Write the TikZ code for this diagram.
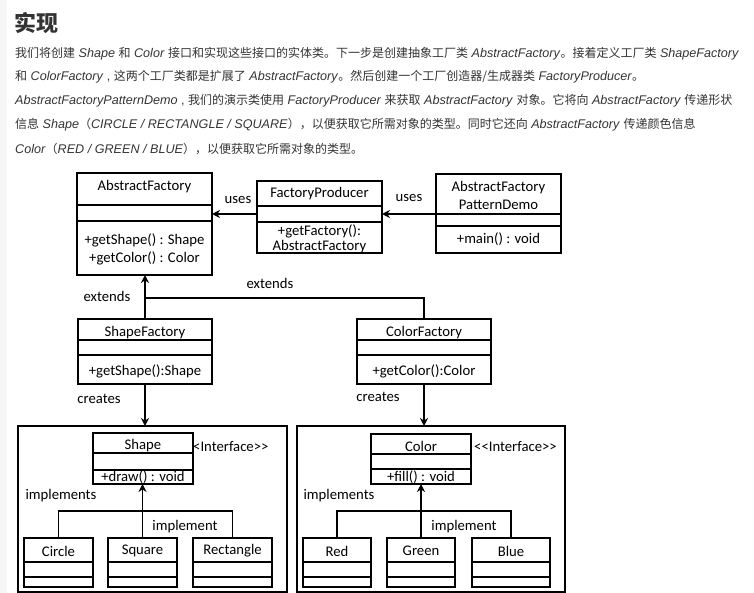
\documentclass[tikz,border=0pt]{standalone}
\usepackage{fontspec}
\setmainfont{Liberation Sans}
\newfontfamily\cjkfont{Noto Sans CJK SC}
\newfontfamily\umlfont{Carlito}
\usetikzlibrary{arrows.meta}
\definecolor{txt}{HTML}{333333}
\definecolor{strip}{HTML}{F6F6F6}
\newcommand\zh[1]{{\cjkfont\fontsize{12}{14}\selectfont #1}}
\newcommand\en[1]{\textit{#1}}
\newcommand\umlcls[9]{%
  \node[cbox, minimum width={#4-#2}, minimum height={#5-#3}] (#1) at (#2,#3) {};
  \draw[div] (#1.west |- 0,#6) -- (#1.east |- 0,#6);
  \draw[div] (#1.west |- 0,#7) -- (#1.east |- 0,#7);
  \node[lbl] (#1-t) at (#1.north |- 0,#8) {#9};}
\begin{document}
\begin{tikzpicture}[x=1pt,y=-1pt,
  cbox/.style={draw, line width=1.8pt, inner sep=0pt, outer sep=0pt, anchor=north west},
  bigbox/.style={draw, line width=1.8pt, inner sep=0pt, outer sep=0pt, anchor=north west},
  div/.style={line width=1.6pt},
  lbl/.style={inner sep=0pt, font=\umlfont\fontsize{14.7}{16}\selectfont},
  para/.style={inner sep=0pt, anchor=west, text=txt, font=\fontsize{12.6}{14}\selectfont},
  arr/.style={line width=1.8pt, -{Stealth[length=8pt,width=8pt]}},
  ln/.style={line width=1.8pt}]
\useasboundingbox (0,0) rectangle (754,593);
\fill[strip] (0,0) rectangle (7,593);
% heading and paragraph
\node[inner sep=0pt, anchor=west, text=txt, font=\cjkfont\bfseries\fontsize{22}{24}\selectfont] (head) at (14,23) {实现};
\node[para] (p1) at (15,54) {\zh{我们将创建} \en{Shape} \zh{和} \en{Color} \zh{接口和实现这些接口的实体类。下一步是创建抽象工厂类} \en{AbstractFactory}\zh{。接着定义工厂类} \en{ShapeFactory}};
\node[para] (p2) at (15,77) {\zh{和} \en{ColorFactory} , \zh{这两个工厂类都是扩展了} \en{AbstractFactory}\zh{。然后创建一个工厂创造器/生成器类} \en{FactoryProducer}\zh{。}};
\node[para] (p3) at (15,101) {\en{AbstractFactoryPatternDemo} , \zh{我们的演示类使用} \en{FactoryProducer} \zh{来获取} \en{AbstractFactory} \zh{对象。它将向} \en{AbstractFactory} \zh{传递形状}};
\node[para] (p4) at (15,125) {\zh{信息} \en{Shape}\zh{（}\en{CIRCLE / RECTANGLE / SQUARE}\zh{），以便获取它所需对象的类型。同时它还向} \en{AbstractFactory} \zh{传递颜色信息}};
\node[para] (p5) at (15,149) {\en{Color}\zh{（}\en{RED / GREEN / BLUE}\zh{），以便获取它所需对象的类型。}};
% top row
\umlcls{af}{77}{173}{212}{275}{205}{221}{187}{AbstractFactory}
\node[lbl] (af-m1) at (af.north |- 0,240) {+getShape() : Shape};
\node[lbl] (af-m2) at (af.north |- 0,258) {+getColor() : Color};
\umlcls{fp}{257}{181}{382}{253}{206}{222}{194}{FactoryProducer}
\node[lbl] (fp-m1) at (fp.north |- 0,231) {+getFactory():};
\node[lbl] (fp-m2) at (fp.north |- 0,247) {AbstractFactory};
\umlcls{demo}{436}{174}{561}{253}{214}{226}{188}{AbstractFactory}
\node[lbl] (demo-t2) at (demo.north |- 0,205) {PatternDemo};
\node[lbl] (demo-m1) at (demo.north |- 0,239) {+main() : void};
\draw[arr] (fp.west |- 0,214) -- (af.east |- 0,214);
\draw[arr] (demo.west |- 0,214) -- (fp.east |- 0,214);
\node[lbl] (uses1) at (238,200) {uses};
\node[lbl] (uses2) at (409,198) {uses};
% factories
\umlcls{sf}{78}{319}{212}{384}{340}{355}{333}{ShapeFactory}
\node[lbl] (sf-m1) at (sf.north |- 0,371) {+getShape():Shape};
\umlcls{cf}{357}{319}{491}{384}{340}{355}{333}{ColorFactory}
\node[lbl] (cf-m1) at (cf.north |- 0,371) {+getColor():Color};
\draw[arr] (sf.north) -- (sf.north |- af.south);
\draw[ln] (cf.north) -- (cf.north |- 0,298) -- (sf.north |- 0,298);
\node[lbl] (ext1) at (107,296) {extends};
\node[lbl] (ext2) at (270,283) {extends};
% packages
\node[bigbox, minimum width=269, minimum height=166] (lbox) at (18,426) {};
\node[bigbox, minimum width=268, minimum height=166] (rbox) at (297,426) {};
\draw[arr] (sf.south) -- (sf.south |- lbox.north);
\draw[arr] (cf.south) -- (cf.south |- rbox.north);
\node[lbl] (cr1) at (99,399) {creates};
\node[lbl] (cr2) at (378,397) {creates};
% interfaces
\umlcls{shape}{93}{433}{193}{484}{453}{470}{446}{Shape}
\node[lbl] (shape-m1) at (shape.north |- 0,477) {+draw() : void};
\node[lbl, anchor=west] (if1) at (193,447) {<Interface>>};
\umlcls{color}{371}{434}{471}{484}{454}{469}{446}{Color}
\node[lbl] (color-m1) at (color.north |- 0,477) {+fill() : void};
\node[lbl, anchor=west] (if2) at (474,447) {<<Interface>>};
% concrete classes
\umlcls{ccircle}{24}{538}{93}{587}{562}{577}{551}{Circle}
\umlcls{csquare}{108}{538}{177}{587}{562}{577}{551}{Square}
\umlcls{crect}{193}{538}{272}{587}{562}{577}{551}{Rectangle}
\umlcls{cred}{303}{538}{371}{587}{562}{577}{551}{Red}
\umlcls{cgreen}{387}{538}{455}{587}{562}{577}{551}{Green}
\umlcls{cblue}{472}{538}{550}{587}{562}{577}{551}{Blue}
\draw[arr] (csquare.north) -- (csquare.north |- shape.south);
\draw[ln] (ccircle.north) -- (ccircle.north |- 0,511) -- (crect.north |- 0,511) -- (crect.north);
\draw[arr] (cgreen.north) -- (cgreen.north |- color.south);
\draw[ln] (cred.north) -- (cred.north |- 0,511) -- (cblue.north |- 0,511) -- (cblue.north);
\node[lbl] (impl1) at (61,496) {implements};
\node[lbl] (impl2) at (339,496) {implements};
\node[lbl] (imp1) at (185,527) {implement};
\node[lbl] (imp2) at (464,527) {implement};
\end{tikzpicture}
\end{document}
